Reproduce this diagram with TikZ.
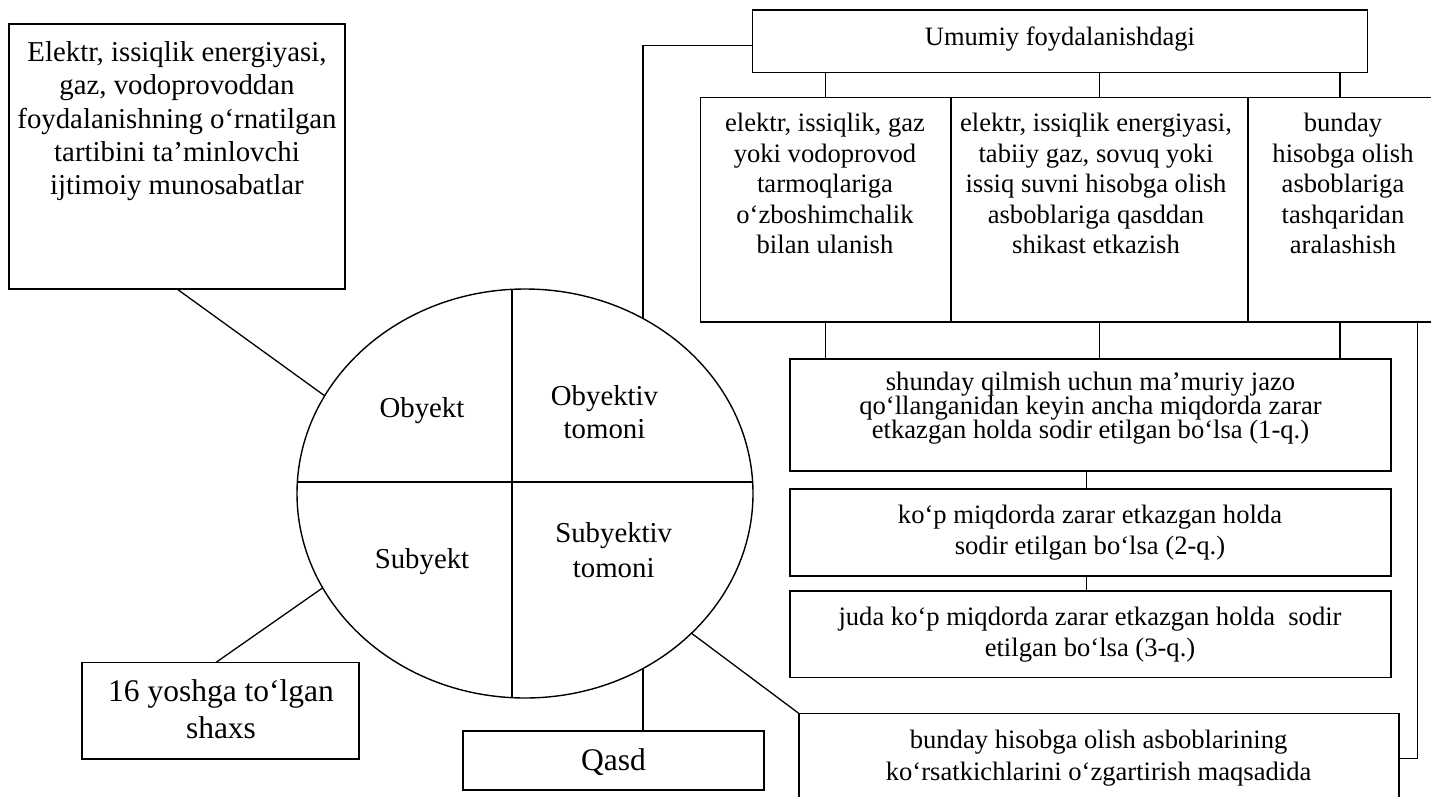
\documentclass[tikz,border=0pt]{standalone}
\usepackage{fontspec}
\setmainfont{Liberation Serif}
\usetikzlibrary{shapes.geometric}
\newcommand\mylines[1]{\vtop{\lineskiplimit=-100pt\lineskip=0pt\halign{\hfil##\hfil\cr#1\crcr}}}
\newcommand\fs[2]{\fontsize{#1}{#2}\selectfont}
\begin{document}
\begin{tikzpicture}[x=1pt,y=-1pt,
  bx/.style={draw, rectangle, line width=1.6pt, inner sep=0pt, outer sep=0pt, anchor=north west},
  tx/.style={anchor=base, inner sep=0pt, outer sep=0pt},
  ln/.style={line width=1.3pt}]
\useasboundingbox (0,0) rectangle (1431,797);
\clip (0,0) rectangle (1431,797);
% boxes
\node[bx, minimum width=336pt, minimum height=265pt] (A) at (9,24) {};
\node[bx, minimum width=615.2pt, minimum height=62.5pt] (top) at (752.3,10) {};
\node[bx, minimum width=250.7pt, minimum height=224pt] (b1) at (700.3,97.7) {};
\node[bx, minimum width=297pt, minimum height=224pt] (b2) at (951,97.7) {};
\node[bx, minimum width=190pt, minimum height=224pt] (b3) at (1248,97.7) {};
\node[bx, minimum width=601pt, minimum height=112pt] (sh) at (790,359) {};
\node[bx, minimum width=601pt, minimum height=87pt] (k2) at (790,489) {};
\node[bx, minimum width=601pt, minimum height=86.3pt] (k3) at (790,591) {};
\node[bx, minimum width=600pt, minimum height=100pt] (bb) at (798.7,713.3) {};
\node[bx, minimum width=277.3pt, minimum height=96.5pt] (y16) at (81.7,662.5) {};
\node[bx, minimum width=301pt, minimum height=59pt] (q) at (463,731) {};
% ellipse
\node[draw, ellipse, line width=1.4pt, inner sep=0pt, outer sep=0pt, minimum width=456pt, minimum height=409pt] (el) at (525,493.5) {};
\coordinate (vt) at (512,289.3);
\coordinate (vb) at (512,697.7);
\coordinate (hl) at (297.4,482);
\coordinate (hr) at (752.6,482);
\draw[ln] (vt) -- (vb);
\draw[ln] (hl) -- (hr);
% connectors
\draw[ln] (A.south) -- (el.154);
\draw[ln] ([xshift=-4.5pt]y16.north) -- (el.205);
\draw[ln] (el.304) -- (el.304 |- q.north);
\draw[ln] (el.320) -- (bb.north west);
\draw[ln] ([yshift=-4.3pt]top.west) -| (el.56);
\draw[ln] (b1.north) -- (b1.north |- top.south);
\draw[ln] (b2.north) -- (b2.north |- top.south);
\draw[ln] ([xshift=-3pt]b3.north) -- ([xshift=-3pt]b3.north |- top.south);
\draw[ln] (b1.south) -- (b1.south |- sh.north);
\draw[ln] (b2.south) -- (b2.south |- sh.north);
\draw[ln] ([xshift=-3pt]b3.south) -- ([xshift=-3pt]b3.south |- sh.north);
\draw[ln] ([xshift=-4pt]sh.south) -- ([xshift=-4pt]k2.north);
\draw[ln] ([xshift=-4pt]k2.south) -- ([xshift=-4pt]k3.north);
\coordinate (rr) at (1417.3,758.3);
\draw[ln] (b3.south -| rr) -- (rr) -- (rr -| bb.east);
% texts
\node[tx, font=\fs{28.8}{33.3}] (tA) at (177,61.7) {\mylines{Elektr, issiqlik energiyasi,\cr gaz, vodoprovoddan\cr foydalanishning o‘rnatilgan\cr tartibini ta’minlovchi\cr ijtimoiy munosabatlar}};
\node[tx, font=\fs{26.5}{30.5}] (tT) at (1060,45.3) {Umumiy foydalanishdagi};
\node[tx, font=\fs{26.6}{30.5}] (t1) at (825,131.7) {\mylines{elektr, issiqlik, gaz\cr yoki vodoprovod\cr tarmoqlariga\cr o‘zboshimchalik\cr bilan ulanish}};
\node[tx, font=\fs{26.6}{30.5}] (t2) at (1096,131.7) {\mylines{elektr, issiqlik energiyasi,\cr tabiiy gaz, sovuq yoki\cr issiq suvni hisobga olish\cr asboblariga qasddan\cr shikast etkazish}};
\node[tx, font=\fs{26.6}{30.5}] (t3) at (1343,131.7) {\mylines{bunday\cr hisobga olish\cr asboblariga\cr tashqaridan\cr aralashish}};
\node[tx, font=\fs{26.6}{24}] (tsh) at (1090.5,390.3) {\mylines{shunday qilmish uchun ma’muriy jazo\cr qo‘llanganidan keyin ancha miqdorda zarar\cr etkazgan holda sodir etilgan bo‘lsa (1-q.)}};
\node[tx, font=\fs{26.6}{31.7}] (tk2) at (1090,523) {\mylines{ko‘p miqdorda zarar etkazgan holda\cr sodir etilgan bo‘lsa (2-q.)}};
\node[tx, font=\fs{26.6}{31.7}] (tk3) at (1090,625) {\mylines{juda ko‘p miqdorda zarar etkazgan holda~ sodir\cr etilgan bo‘lsa (3-q.)}};
\node[tx, font=\fs{26.6}{31.7}] (tbb) at (1098.6,748.3) {\mylines{bunday hisobga olish asboblarining\cr ko‘rsatkichlarini o‘zgartirish maqsadida}};
\node[tx, font=\fs{31.5}{36.5}] (ty16) at (221,701.7) {\mylines{16 yoshga to‘lgan\cr shaxs}};
\node[tx, font=\fs{31.5}{36.5}] (tq) at (613.5,770) {Qasd};
\node[tx, font=\fs{28.8}{33.3}] (tob) at (422,417.3) {Obyekt};
\node[tx, font=\fs{28.8}{33.3}] (tobt) at (604.5,405) {\mylines{Obyektiv\cr tomoni}};
\node[tx, font=\fs{28.8}{33.3}] (tsu) at (422,568.3) {Subyekt};
\node[tx, font=\fs{28.8}{34.6}] (tsut) at (613.7,542.7) {\mylines{Subyektiv\cr tomoni}};
\end{tikzpicture}
\end{document}
